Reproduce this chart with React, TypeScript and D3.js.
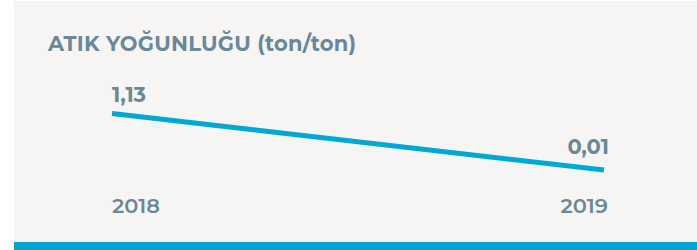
import React from "react";
import * as d3 from "d3";

const years = ["2018", "2019"];
const values = [1.13, 0.01];
const valueLabels = ["1,13", "0,01"];
const title = "ATIK YOĞUNLUĞU (ton/ton)";

const W = 697;
const H = 250;
const TEXT = "#6a8898";
const BLUE = "#00a8d6";
const FONT = "Montserrat, 'DejaVu Sans', sans-serif";

export default function App() {
  const x = d3.scalePoint<string>().domain(years).range([112, 604]);
  const y = d3.scaleLinear().domain([0.01, 1.13]).range([170, 113.5]);
  const data = years.map((yr, i) => ({ yr, v: values[i], label: valueLabels[i] }));
  const line = d3
    .line<{ yr: string; v: number }>()
    .x((d) => x(d.yr) as number)
    .y((d) => y(d.v));
  const last = data.length - 1;

  return (
    <svg
      width={W}
      height={H}
      style={{ position: "absolute", left: 0, top: 0, display: "block" }}
    >
      <rect x={0} y={0} width={W} height={H} fill="#ffffff" />
      <rect x={14} y={1} width={W - 14} height={H - 1} fill="#f6f5f3" />
      <rect x={14} y={242} width={W - 14} height={H - 242} fill="#00a5d3" />
      <text
        x={48}
        y={51}
        fill={TEXT}
        fontFamily={FONT}
        fontWeight="bold"
        fontSize={21}
        textLength={308}
        lengthAdjust="spacing"
      >
        {title}
      </text>
      <path d={line(data) || ""} fill="none" stroke={BLUE} strokeWidth={5} />
      {data.map((d, i) => (
        <text
          key={"v" + d.yr}
          x={(x(d.yr) as number) + (i === last ? 5 : 0)}
          y={y(d.v) - (i === last ? 16 : 12)}
          textAnchor={i === last ? "end" : "start"}
          fill={TEXT}
          fontFamily={FONT}
          fontWeight="bold"
          fontSize={21}
        >
          {d.label}
        </text>
      ))}
      {data.map((d, i) => (
        <text
          key={"y" + d.yr}
          x={(x(d.yr) as number) + (i === last ? 4 : 0)}
          y={213}
          textAnchor={i === last ? "end" : "start"}
          fill={TEXT}
          fontFamily={FONT}
          fontWeight={600}
          fontSize={21}
        >
          {d.yr}
        </text>
      ))}
    </svg>
  );
}
